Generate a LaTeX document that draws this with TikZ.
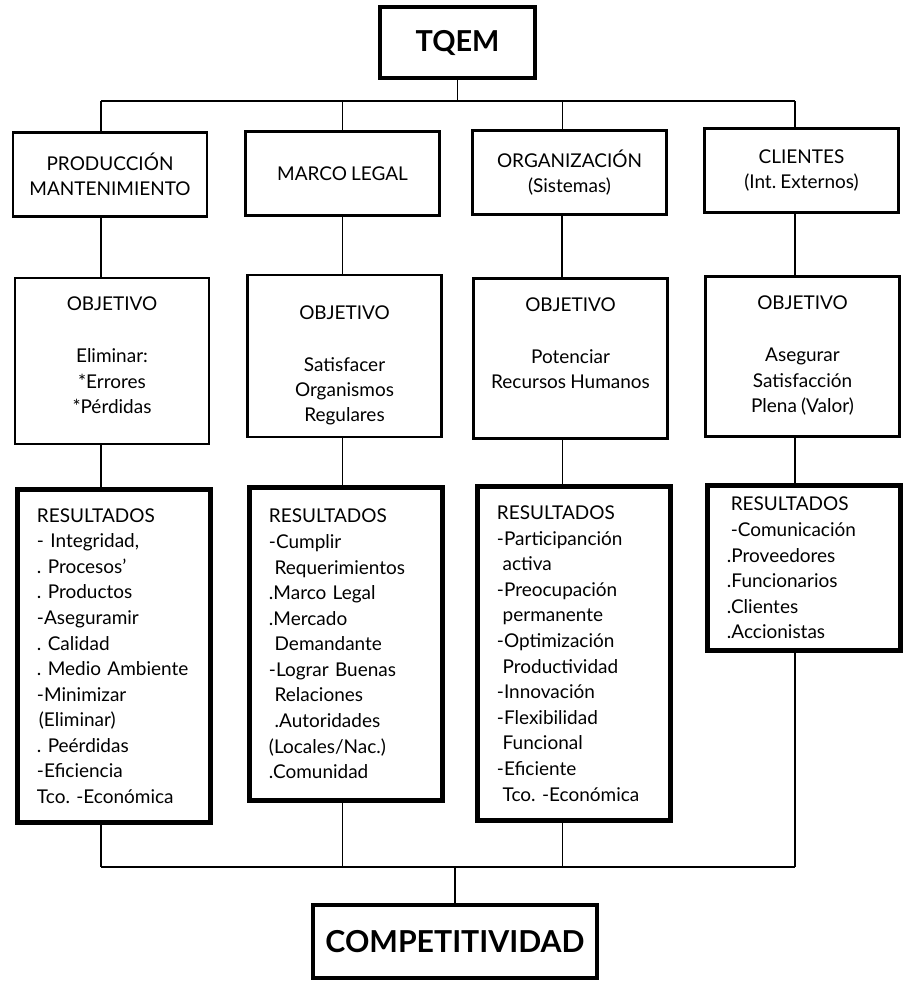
\documentclass[tikz,border=0pt]{standalone}
\usepackage{fontspec}
\setmainfont{Lato}[WordSpace=0.85]
\frenchspacing
\hyphenpenalty=10000
\usetikzlibrary{positioning,calc}
\tikzstyle{wire} = [line width=1.4pt]
\tikzstyle{thinwire} = [line width=0.7pt]
\tikzstyle{headbox} = [rectangle, draw, line width=2.8pt, font=\bfseries\fontsize{20.5}{24}\selectfont]
\tikzstyle{areabox} = [rectangle, draw, line width=1.8pt, minimum width=4.84cm, minimum height=2.1cm, align=center, font=\fontsize{13.5}{18}\selectfont]
\tikzstyle{goalbox} = [rectangle, draw, line width=1.8pt, minimum width=4.84cm]
\tikzstyle{goaltext} = [align=center, inner sep=0pt, font=\fontsize{13.5}{18}\selectfont]
\tikzstyle{resultbox} = [rectangle, draw, line width=3.5pt, minimum width=4.83cm, text width=3.85cm, align=left, font=\fontsize{13.5}{18.2}\selectfont]

\begin{document}
\begin{tikzpicture}[x=0.025cm, y=-0.025cm]
\useasboundingbox (0,0) rectangle (903,982);

% cabecera
\node[headbox, minimum width=3.88cm, minimum height=1.78cm] (tqem) at (457.5,42.5) {TQEM};

% areas
\node[areabox] (prod) at (110,174.5) {PRODUCCIÓN\\MANTENIMIENTO};
\node[areabox] (legal) at (342.5,173.5) {MARCO LEGAL};
\node[areabox] (org) at (569.5,172.5) {ORGANIZACIÓN\\(Sistemas)};
\node[areabox] (cli) at (801.5,170.5) {CLIENTES\\(Int. Externos)};

% objetivos
\node[goalbox, minimum height=4.14cm] (prodobj) at (112,361) {};
\node[goalbox, minimum height=4.04cm] (legalobj) at (344.5,356) {};
\node[goalbox, minimum height=4.01cm] (orgobj) at (570.5,358.5) {};
\node[goalbox, minimum height=4.01cm] (cliobj) at (802.5,356.5) {};

\node[goaltext, below=0.5cm of prodobj.north] (prodtxt) {OBJETIVO\\[19pt]Eliminar:\\*Errores\\*Pérdidas};
\node[goaltext, below=0.78cm of legalobj.north] (legaltxt) {OBJETIVO\\[19pt]Satisfacer\\Organismos\\Regulares};
\node[goaltext, below=0.5cm of orgobj.north] (orgtxt) {OBJETIVO\\[19pt]Potenciar\\Recursos Humanos};
\node[goaltext, below=0.52cm of cliobj.north] (clitxt) {OBJETIVO\\[19pt]Asegurar\\Satisfacción\\Plena (Valor)};

% resultados
\node[resultbox, minimum height=8.33cm] (prodres) at (114,656) {RESULTADOS\\- Integridad,\\. Procesos'\\. Productos\\-Aseguramir\\. Calidad\\. Medio Ambiente\\-Minimizar\\\hspace*{0.1em}(Eliminar)\\. Peérdidas\\-Eficiencia\\Tco. -Económica};
\node[resultbox, minimum height=7.83cm] (legalres) at (346,644) {RESULTADOS\\-Cumplir\\\hspace*{0.3em}Requerimientos\\.Marco Legal\\.Mercado\\\hspace*{0.3em}Demandante\\-Lograr Buenas\\\hspace*{0.3em}Relaciones\\\hspace*{0.3em}.Autoridades\\(Locales/Nac.)\\.Comunidad};
\node[resultbox, minimum height=8.35cm] (orgres) at (574,653.5) {RESULTADOS\\-Participanción\\\hspace*{0.3em}activa\\-Preocupación\\\hspace*{0.3em}permanente\\-Optimización\\\hspace*{0.3em}Productividad\\-Innovación\\-Flexibilidad\\\hspace*{0.3em}Funcional\\-Eficiente\\\hspace*{0.3em}Tco. -Económica};
\node[resultbox, minimum height=4.13cm] (clires) at (804,568) {\hspace*{0.2em}RESULTADOS\\\hspace*{0.2em}-Comunicación\\.Proveedores\\.Funcionarios\\.Clientes\\.Accionistas};

% meta final
\node[headbox, minimum width=7.1cm, minimum height=1.83cm, font=\bfseries\fontsize{21.5}{25}\selectfont] (comp) at (455,941.5) {COMPETITIVIDAD};

% columnas y barras
\coordinate (c1) at (101,0);
\coordinate (c2) at (342,0);
\coordinate (c3) at (562,0);
\coordinate (c4) at (795,0);
\coordinate (topbus) at (457,101);
\coordinate (botbus) at (459,867);

\draw[wire] (tqem.south) -- (tqem.south |- topbus);
\draw[wire] (c1 |- topbus) -- (c4 |- topbus);
\draw[wire] (c1 |- topbus) -- (c1 |- prod.north);
\draw[thinwire] (c2 |- topbus) -- (c2 |- legal.north);
\draw[thinwire] (c3 |- topbus) -- (c3 |- org.north);
\draw[wire] (c4 |- topbus) -- (c4 |- cli.north);

\draw[wire] (c1 |- prod.south) -- (c1 |- prodobj.north);
\draw[thinwire] (c2 |- legal.south) -- (c2 |- legalobj.north);
\draw[wire] (c3 |- org.south) -- (c3 |- orgobj.north);
\draw[wire] (c4 |- cli.south) -- (c4 |- cliobj.north);

\draw[wire] (c1 |- prodobj.south) -- (c1 |- prodres.north);
\draw[thinwire] (c2 |- legalobj.south) -- (c2 |- legalres.north);
\draw[thinwire] (c3 |- orgobj.south) -- (c3 |- orgres.north);
\draw[wire] (c4 |- cliobj.south) -- (c4 |- clires.north);

\draw[wire] (c1 |- prodres.south) -- (c1 |- botbus);
\draw[thinwire] (c2 |- legalres.south) -- (c2 |- botbus);
\draw[thinwire] (c3 |- orgres.south) -- (c3 |- botbus);
\draw[wire] (c4 |- clires.south) -- (c4 |- botbus);
\draw[wire] (c1 |- botbus) -- (c4 |- botbus);
\draw[wire] (comp.north) -- (comp.north |- botbus);
\end{tikzpicture}
\end{document}
